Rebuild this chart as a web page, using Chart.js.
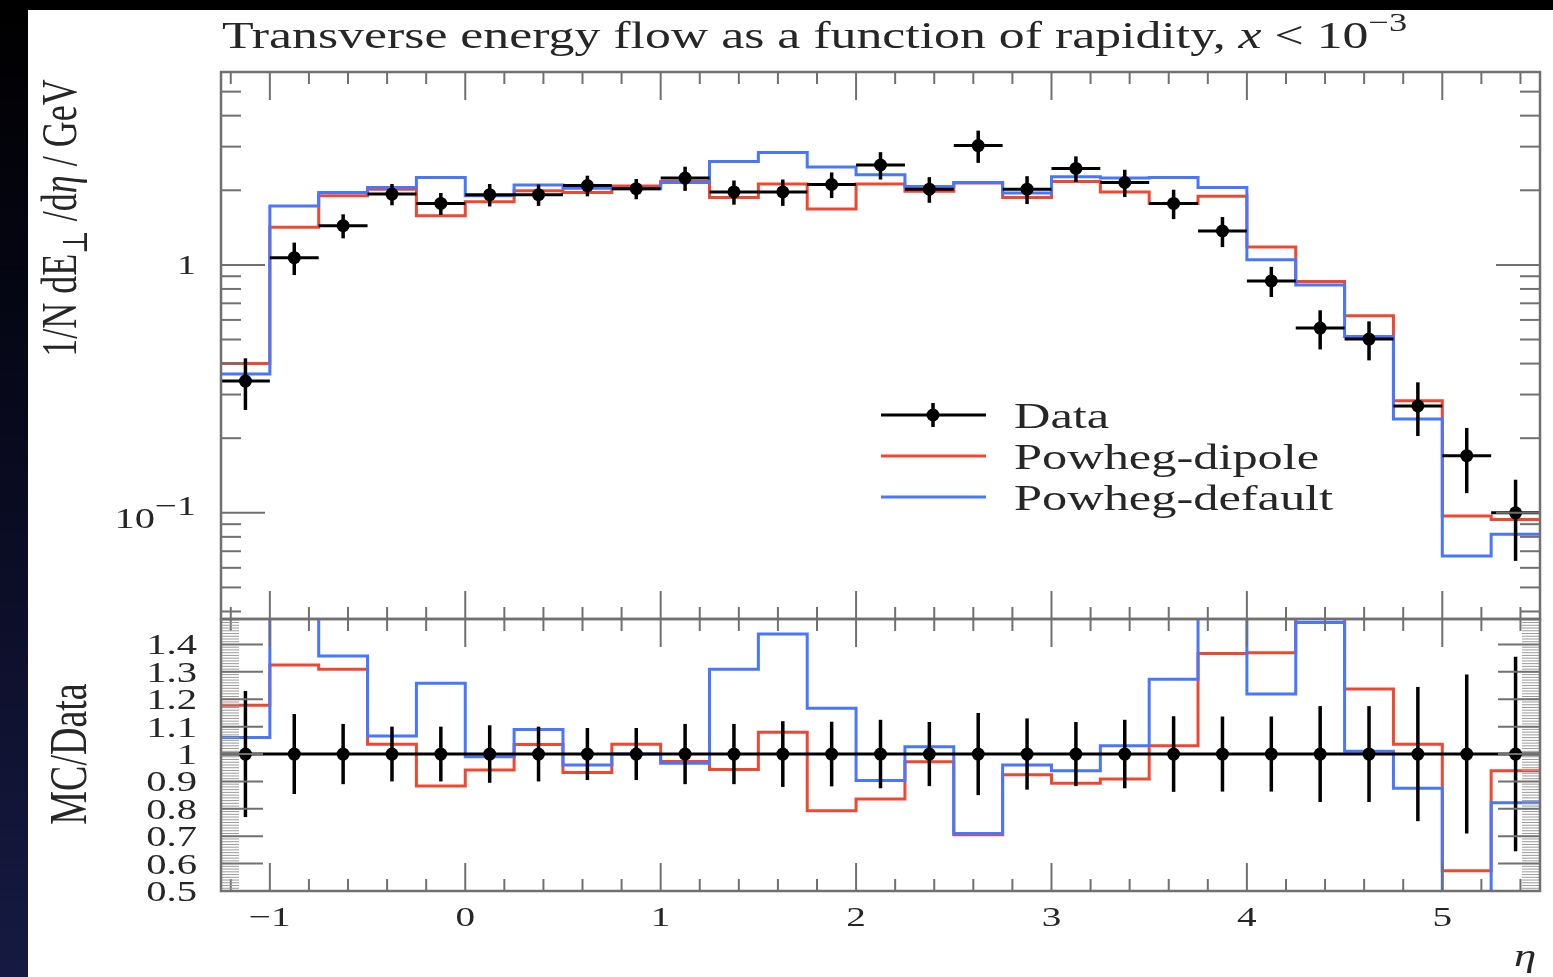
<!DOCTYPE html>
<html>
<head>
<meta charset="utf-8">
<script src="https://cdn.jsdelivr.net/npm/chart.js@4.4.1/dist/chart.umd.min.js"></script>
<style>
  html, body { margin: 0; padding: 0; }
  body { width: 1553px; height: 977px; overflow: hidden; position: relative;
         background: linear-gradient(to bottom, #000 0%, #07081a 40%, #161a42 100%); }
  #paper { position: absolute; left: 28px; top: 10px; right: 0; bottom: 0; background: #fff; }
  canvas { position: absolute; left: 0; top: 0; filter: blur(0.6px); }
</style>
</head>
<body>
<div id="paper"></div>
<canvas id="main" width="1553" height="977"></canvas>
<canvas id="ratio" width="1553" height="977"></canvas>
<script>
// bin edges in eta
var edges = [-1.25, -1.0, -0.75, -0.5, -0.25, 0.0, 0.25, 0.5, 0.75, 1.0, 1.25, 1.5, 1.75, 2.0,
             2.25, 2.5, 2.75, 3.0, 3.25, 3.5, 3.75, 4.0, 4.25, 4.5, 4.75, 5.0, 5.25, 5.5];
var centers = [-1.125, -0.875, -0.625, -0.375, -0.125, 0.125, 0.375, 0.625, 0.875, 1.125, 1.375,
               1.625, 1.875, 2.125, 2.375, 2.625, 2.875, 3.125, 3.375, 3.625, 3.875, 4.125,
               4.375, 4.625, 4.875, 5.125, 5.375];

// 1/N dE/deta  (GeV)
var dataVals = [0.34, 1.07, 1.44, 1.93, 1.77, 1.92, 1.92, 2.09, 2.03, 2.24, 1.97, 1.97, 2.11, 2.53,
                2.02, 3.03, 2.02, 2.45, 2.15, 1.77, 1.37, 0.862, 0.556, 0.502, 0.27, 0.170, 0.100];
var dataErr = [0.08, 0.16, 0.16, 0.19, 0.18, 0.20, 0.19, 0.20, 0.19, 0.25, 0.22, 0.24, 0.25, 0.32,
               0.24, 0.45, 0.26, 0.29, 0.27, 0.24, 0.19, 0.12, 0.10, 0.09, 0.066, 0.05, 0.036];
var powhegDipole = [0.40, 1.42, 1.90, 2.02, 1.58, 1.80, 1.99, 1.96, 2.08, 2.17, 1.87, 2.12, 1.68, 2.12,
                    1.98, 2.14, 1.87, 2.17, 1.97, 1.77, 1.89, 1.18, 0.857, 0.624, 0.283, 0.097, 0.094];
var powhegDefault = [0.363, 1.73, 1.96, 2.05, 2.25, 1.90, 2.10, 2.04, 2.03, 2.15, 2.61, 2.84, 2.48, 2.31,
                     2.07, 2.15, 1.95, 2.27, 2.24, 2.25, 2.05, 1.05, 0.83, 0.514, 0.239, 0.067, 0.082];

// MC / Data
var ratioData = [1, 1, 1, 1, 1, 1, 1, 1, 1, 1, 1, 1, 1, 1, 1, 1, 1, 1, 1, 1, 1, 1, 1, 1, 1, 1, 1];
var ratioErr = [0.23, 0.146, 0.11, 0.10, 0.10, 0.105, 0.10, 0.095, 0.095, 0.11, 0.11, 0.12, 0.118, 0.125,
                0.117, 0.15, 0.13, 0.117, 0.125, 0.138, 0.137, 0.137, 0.175, 0.175, 0.245, 0.29, 0.355];
var ratioDipole = [1.178, 1.325, 1.31, 1.036, 0.883, 0.942, 1.035, 0.933, 1.036, 0.973, 0.944, 1.08, 0.793,
                   0.836, 0.972, 0.705, 0.924, 0.893, 0.909, 1.03, 1.367, 1.37, 1.54, 1.237, 1.036, 0.574, 0.939];
var ratioDefault = [1.06, 1.62, 1.358, 1.066, 1.258, 0.99, 1.09, 0.96, 1.0, 0.966, 1.31, 1.438, 1.167,
                    0.903, 1.027, 0.71, 0.96, 0.939, 1.03, 1.273, 1.5, 1.219, 1.48, 1.01, 0.875, 0.39, 0.822];

// tick labels
var xTickLabels = [-1, 0, 1, 2, 3, 4, 5];
var mainMajorTicks = [0.1, 1];
var mainMinorTicks = [0.04, 0.05, 0.06, 0.07, 0.08, 0.09, 0.2, 0.3, 0.4, 0.5, 0.6, 0.7, 0.8, 0.9, 2, 3, 4, 5, 6];
var ratioTickLabels = [0.5, 0.6, 0.7, 0.8, 0.9, 1, 1.1, 1.2, 1.3, 1.4];

var RED = 'rgb(240,72,48)';
var BLUE = 'rgb(72,118,255)';
var INK = '#262626';
var AXIS = '#707070';
var SERIF = '"Liberation Serif", "DejaVu Serif", serif';
var SX = 1.4;  // the original image is stretched sideways

function stepPoints(vals) {
  var pts = [];
  for (var i = 0; i < vals.length; i++) pts.push({x: edges[i], y: vals[i]});
  pts.push({x: edges[edges.length - 1], y: vals[vals.length - 1]});
  return pts;
}
function centerPoints(vals) {
  var pts = [];
  for (var i = 0; i < vals.length; i++) pts.push({x: centers[i], y: vals[i]});
  return pts;
}

function font(size, style) { return (style ? style + ' ' : '') + size + 'px ' + SERIF; }

// draw a run of text pieces, stretched by SX, optionally rotated
function drawParts(ctx, parts, x, y, align, rot) {
  ctx.save();
  ctx.fillStyle = INK;
  ctx.textBaseline = 'alphabetic';
  ctx.textAlign = 'left';
  var w = 0;
  parts.forEach(function(p) { ctx.font = p.f; w += ctx.measureText(p.t).width; });
  ctx.translate(x, y);
  ctx.scale(SX, 1);
  if (rot) ctx.rotate(-Math.PI / 2);
  var cx = align === 'center' ? -w / 2 : (align === 'right' ? -w : 0);
  parts.forEach(function(p) {
    ctx.font = p.f;
    ctx.fillText(p.t, cx, p.dy || 0);
    cx += ctx.measureText(p.t).width;
  });
  ctx.restore();
}

function seg(ctx, x1, y1, x2, y2) {
  ctx.beginPath(); ctx.moveTo(x1, y1); ctx.lineTo(x2, y2); ctx.stroke();
}

function xTicks(ctx, x, a) {
  ctx.strokeStyle = AXIS; ctx.lineWidth = 2;
  for (var k = -6; k <= 27; k++) {
    var v = k * 0.2;
    var px = x.getPixelForValue(v);
    var len = (k % 5 === 0) ? 28 : 12;
    seg(ctx, px, a.top, px, a.top + len);
    seg(ctx, px, a.bottom, px, a.bottom - len);
  }
}

function yTick(ctx, a, py, len) {
  seg(ctx, a.left, py, a.left + len, py);
  seg(ctx, a.right, py, a.right - len, py);
}

function errorBars(ctx, chart, vals, errs, withX) {
  var x = chart.scales.x, y = chart.scales.y, a = chart.chartArea;
  ctx.save();
  ctx.beginPath(); ctx.rect(a.left, a.top, a.right - a.left, a.bottom - a.top); ctx.clip();
  ctx.strokeStyle = '#000'; ctx.lineWidth = 3.5;
  for (var i = 0; i < vals.length; i++) {
    var px = x.getPixelForValue(centers[i]);
    seg(ctx, px, y.getPixelForValue(vals[i] + errs[i]), px, y.getPixelForValue(vals[i] - errs[i]));
    if (withX) {
      ctx.lineWidth = 3;
      var py = y.getPixelForValue(vals[i]);
      seg(ctx, x.getPixelForValue(edges[i]), py, x.getPixelForValue(edges[i + 1]), py);
      ctx.lineWidth = 3.5;
    }
  }
  ctx.restore();
}

var mainDecor = {
  id: 'mainDecor',
  afterDatasetsDraw: function(chart) {
    errorBars(chart.ctx, chart, dataVals, dataErr, true);
  },
  afterDraw: function(chart) {
    var ctx = chart.ctx, a = chart.chartArea, x = chart.scales.x, y = chart.scales.y;
    ctx.save();
    xTicks(ctx, x, a);
    mainMinorTicks.forEach(function(v) { yTick(ctx, a, y.getPixelForValue(v), 20); });
    mainMajorTicks.forEach(function(v) { yTick(ctx, a, y.getPixelForValue(v), 44); });
    ctx.lineWidth = 2.5;
    ctx.strokeRect(a.left, a.top, a.right - a.left, a.bottom - a.top);
    ctx.restore();

    // y tick labels
    drawParts(ctx, [{t: '1', f: font(27)}], 196, y.getPixelForValue(1) + 9, 'right');
    drawParts(ctx, [{t: '10', f: font(29)}, {t: '\u2212', f: font(28), dy: -13}, {t: '1', f: font(27), dy: -13}],
              196, y.getPixelForValue(0.1) + 15, 'right');

    // title
    drawParts(ctx, [
      {t: 'Transverse energy flow as a function of rapidity, ', f: font(37)},
      {t: 'x', f: font(37, 'italic')},
      {t: ' < 10', f: font(37)},
      {t: '\u22123', f: font(26), dy: -17}
    ], 222, 48, 'left');

    // y axis title
    drawParts(ctx, [
      {t: '1/N dE', f: font(36)},
      {t: '\u22a5', f: font(25), dy: 8},
      {t: ' /d', f: font(36)},
      {t: '\u03b7', f: font(36, 'italic')},
      {t: ' / GeV', f: font(36)}
    ], 76, 218, 'center', true);

    // legend
    var items = [
      {label: 'Data', color: '#000', y: 415, marker: true},
      {label: 'Powheg-dipole', color: RED, y: 456},
      {label: 'Powheg-default', color: BLUE, y: 497}
    ];
    items.forEach(function(it) {
      ctx.save();
      ctx.strokeStyle = it.color; ctx.lineWidth = 3;
      seg(ctx, 881, it.y, 986, it.y);
      if (it.marker) {
        ctx.lineWidth = 3.5;
        seg(ctx, 933, it.y - 12, 933, it.y + 12);
        ctx.fillStyle = '#000';
        ctx.beginPath(); ctx.arc(933, it.y, 6.5, 0, Math.PI * 2); ctx.fill();
      }
      ctx.restore();
      drawParts(ctx, [{t: it.label, f: font(36)}], 1014, it.y + 13, 'left');
    });
  }
};

var ratioDecor = {
  id: 'ratioDecor',
  afterDatasetsDraw: function(chart) {
    errorBars(chart.ctx, chart, ratioData, ratioErr, false);
  },
  afterDraw: function(chart) {
    var ctx = chart.ctx, a = chart.chartArea, x = chart.scales.x, y = chart.scales.y;
    ctx.save();
    xTicks(ctx, x, a);
    ctx.strokeStyle = '#9a9a9a'; ctx.lineWidth = 1;
    for (var k = 50; k <= 149; k++) yTick(ctx, a, y.getPixelForValue(k / 100), 18);
    ctx.strokeStyle = AXIS; ctx.lineWidth = 2;
    ratioTickLabels.forEach(function(v) { yTick(ctx, a, y.getPixelForValue(v), 42); });
    ctx.lineWidth = 2.5;
    ctx.strokeRect(a.left, a.top, a.right - a.left, a.bottom - a.top);
    ctx.restore();

    ratioTickLabels.forEach(function(v) {
      var s = (v === 1) ? '1' : v.toFixed(1);
      drawParts(ctx, [{t: s, f: font(29)}], 197, y.getPixelForValue(v) + 10, 'right');
    });
    xTickLabels.forEach(function(v) {
      var s = v < 0 ? '\u2212' + (-v) : String(v);
      drawParts(ctx, [{t: s, f: font(28)}], x.getPixelForValue(v), 926, 'center');
    });
    drawParts(ctx, [{t: '\u03b7', f: font(32, 'italic')}], 1525, 966, 'center');
    drawParts(ctx, [{t: 'MC/Data', f: font(38)}], 86, 754, 'center', true);
  }
};

function baseOptions(padding, yScale) {
  return {
    responsive: false,
    animation: false,
    events: [],
    layout: {padding: padding},
    scales: {
      x: {type: 'linear', min: -1.25, max: 5.5, display: false},
      y: yScale
    },
    plugins: {legend: {display: false}, tooltip: {enabled: false}}
  };
}

new Chart(document.getElementById('main'), {
  type: 'line',
  data: {
    datasets: [
      {label: 'Data', data: centerPoints(dataVals), showLine: false, pointRadius: 6.5,
       pointBackgroundColor: '#000', pointBorderWidth: 0, order: 0},
      {label: 'Powheg-default', data: stepPoints(powhegDefault), stepped: 'before',
       borderColor: BLUE, borderWidth: 3, pointRadius: 0, fill: false, order: 1},
      {label: 'Powheg-dipole', data: stepPoints(powhegDipole), stepped: 'before',
       borderColor: RED, borderWidth: 3, pointRadius: 0, fill: false, order: 2}
    ]
  },
  options: baseOptions({left: 221, top: 72, right: 13, bottom: 358},
                       {type: 'logarithmic', min: 0.0373, max: 6, display: false}),
  plugins: [mainDecor]
});

new Chart(document.getElementById('ratio'), {
  type: 'line',
  data: {
    datasets: [
      {label: 'Data', data: centerPoints(ratioData), showLine: false, pointRadius: 6.5,
       pointBackgroundColor: '#000', pointBorderWidth: 0, order: 0},
      {label: 'Data line', data: stepPoints(ratioData), stepped: 'before',
       borderColor: '#000', borderWidth: 3, pointRadius: 0, fill: false, order: 1},
      {label: 'Powheg-default', data: stepPoints(ratioDefault), stepped: 'before',
       borderColor: BLUE, borderWidth: 3, pointRadius: 0, fill: false, order: 2},
      {label: 'Powheg-dipole', data: stepPoints(ratioDipole), stepped: 'before',
       borderColor: RED, borderWidth: 3, pointRadius: 0, fill: false, order: 3}
    ]
  },
  options: baseOptions({left: 221, top: 619, right: 13, bottom: 86},
                       {type: 'linear', min: 0.5, max: 1.493, display: false}),
  plugins: [ratioDecor]
});
</script>
</body>
</html>
